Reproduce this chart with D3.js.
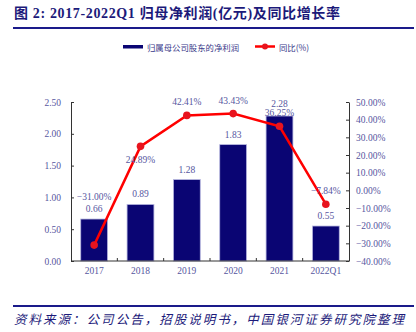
<!DOCTYPE html>
<html><head><meta charset="utf-8">
<script src="https://cdn.jsdelivr.net/npm/d3@7"></script>
<style>body{margin:0;background:#fff}svg{display:block}</style>
</head><body>
<script>
const categories = ["2017","2018","2019","2020","2021","2022Q1"];
const profit = [0.66,0.89,1.28,1.83,2.28,0.55];
const growth = [-31.00,24.89,42.41,43.43,36.25,-7.84];
const leftTicks = [0,0.5,1,1.5,2,2.5];
const rightTicks = [-40,-30,-20,-10,0,10,20,30,40,50];
const growthLabelSide = ["stack","below","above","above","above","above"];

const W=416,H=332;
const navy="#0a0573", red="#ff0000", txt="#5656a0";
const numFont="'Liberation Serif','DejaVu Serif',serif";
const cjk="'Noto Sans CJK SC',sans-serif";
const svg=d3.select("body").append("svg").attr("width",W).attr("height",H);

// title
svg.append("text").attr("x",14).attr("y",18).attr("fill","#1c1a7a")
 .attr("font-size",14).attr("font-weight","bold")
 .attr("textLength",326).attr("lengthAdjust","spacing")
 .attr("font-family","'Liberation Serif','Noto Sans CJK SC',serif")
 .text("图 2:  2017-2022Q1 归母净利润(亿元)及同比增长率");
svg.append("rect").attr("x",13).attr("y",27).attr("width",401).attr("height",2).attr("fill","#1a1a8a");
// footer
svg.append("rect").attr("x",13).attr("y",305).attr("width",401).attr("height",2).attr("fill","#1a1a8a");
svg.append("text").attr("x",14).attr("y",324).attr("fill","#1c1a7a").attr("font-size",12.5)
 .attr("textLength",390).attr("lengthAdjust","spacing").attr("font-style","italic").attr("font-family",cjk)
 .text("资料来源：公司公告，招股说明书，中国银河证券研究院整理");

const x=d3.scaleBand().domain(categories).range([71,349]).paddingInner(0.42).paddingOuter(0.21);
const yL=d3.scaleLinear().domain([0,2.5]).range([261,102]);
const yR=d3.scaleLinear().domain([-40,50]).range([261,102]);

// bars
svg.append("g").selectAll("rect").data(categories).join("rect")
 .attr("x",d=>x(d)).attr("y",(d,i)=>yL(profit[i])).attr("width",x.bandwidth())
 .attr("height",(d,i)=>yL(0)-yL(profit[i])).attr("fill",navy).attr("stroke","#b8b8e0").attr("stroke-width",0.8);

// axes
const axStyle=g=>{g.selectAll("path,line").attr("stroke","#333");g.selectAll("text").attr("fill",txt).attr("font-family",numFont).attr("font-size",9.5);};
svg.append("g").attr("transform","translate(71,0)")
 .call(d3.axisLeft(yL).tickValues(leftTicks).tickFormat(d3.format(".2f")).tickSizeInner(-3).tickSizeOuter(0).tickPadding(10))
 .call(axStyle);
svg.append("g").attr("transform","translate(349,0)")
 .call(d3.axisRight(yR).tickValues(rightTicks).tickFormat(d=>d3.format(".2f")(d)+"%").tickSizeInner(-3).tickSizeOuter(0).tickPadding(7))
 .call(axStyle);
const xa=svg.append("g").attr("transform","translate(0,261)")
 .call(d3.axisBottom(x).tickSize(0).tickSizeOuter(0).tickPadding(6)).call(axStyle);
xa.select("path").attr("d","M71,0H349");
// category separator ticks
svg.append("g").selectAll("line").data(categories.slice(1)).join("line")
 .attr("x1",d=>x(d)-x.step()*x.paddingInner()/2).attr("x2",d=>x(d)-x.step()*x.paddingInner()/2)
 .attr("y1",261).attr("y2",258).attr("stroke","#333");

// line
const cx=d=>x(d)+x.bandwidth()/2;
svg.append("path").datum(categories).attr("fill","none").attr("stroke",red).attr("stroke-width",2.5)
 .attr("d",d3.line().x(d=>cx(d)).y((d,i)=>yR(growth[i])));
svg.append("g").selectAll("circle").data(categories).join("circle")
 .attr("cx",d=>cx(d)).attr("cy",(d,i)=>yR(growth[i])).attr("r",3.8).attr("fill","#e8141e");

// bar labels
svg.append("g").selectAll("text").data(categories).join("text")
 .attr("x",d=>cx(d)).attr("y",(d,i)=>yL(profit[i])-(i===4?9:7)).attr("text-anchor","middle")
 .attr("fill",txt).attr("font-family",numFont).attr("font-size",9.5)
 .text((d,i)=>d3.format(".2f")(profit[i]));
// growth labels
svg.append("g").selectAll("text").data(categories).join("text")
 .attr("x",d=>cx(d)).attr("y",(d,i)=>{
   const s=growthLabelSide[i];
   if(s==="stack") return yL(profit[i])-19;
   if(s==="below") return yR(growth[i])+17;
   return yR(growth[i])-10;})
 .attr("text-anchor","middle").attr("fill",txt).attr("font-family",numFont).attr("font-size",9.5)
 .text((d,i)=>d3.format(".2f")(growth[i])+"%");

// legend
svg.append("rect").attr("x",123).attr("y",45).attr("width",20).attr("height",3.5).attr("fill",navy);
svg.append("text").attr("x",147).attr("y",50.5).attr("fill","#3a3a8a").attr("font-size",8.4).attr("font-family",cjk).text("归属母公司股东的净利润");
svg.append("line").attr("x1",255).attr("x2",275).attr("y1",46.5).attr("y2",46.5).attr("stroke",red).attr("stroke-width",2.5);
svg.append("circle").attr("cx",265).attr("cy",46.5).attr("r",3).attr("fill","#e8141e");
svg.append("text").attr("x",279).attr("y",50.5).attr("fill","#3a3a8a").attr("font-size",8.4).attr("font-family",cjk).text("同比(%)");
</script>
</body></html>
